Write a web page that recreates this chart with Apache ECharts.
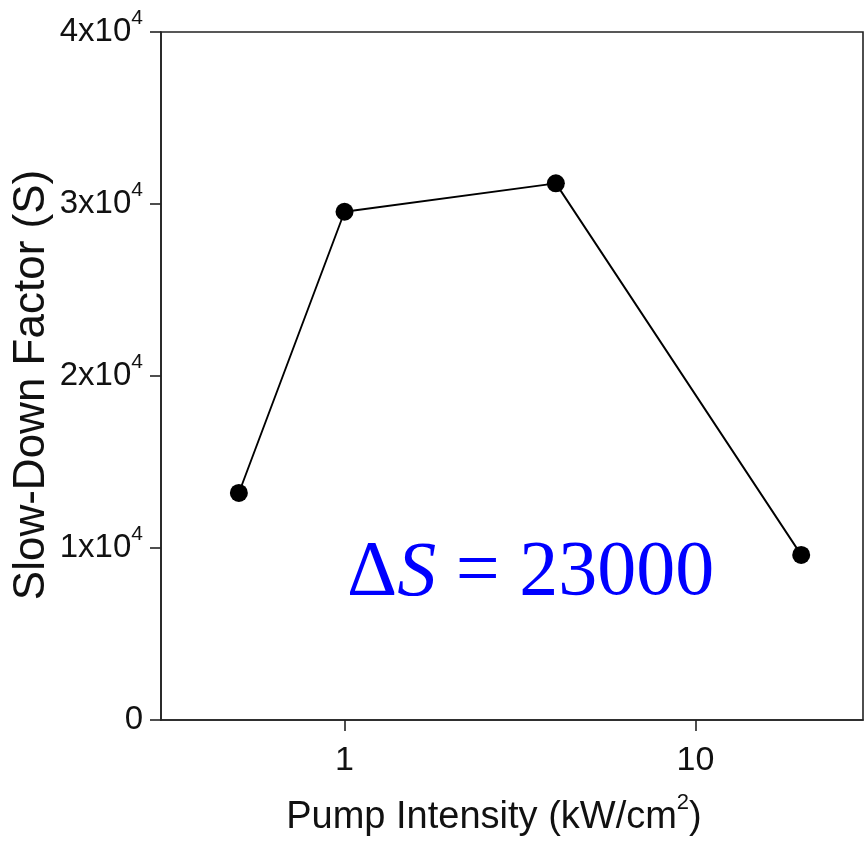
<!DOCTYPE html>
<html>
<head>
<meta charset="utf-8">
<script src="https://cdn.jsdelivr.net/npm/echarts@6/dist/echarts.min.js"></script>
<style>
html,body{margin:0;padding:0;background:#fff;}
#chart{width:867px;height:842px;}
</style>
</head>
<body>
<div id="chart"></div>
<script>
// Data
const pumpIntensity = [0.5, 1, 4, 20];          // kW/cm^2
const slowDownFactor = [13200, 29550, 31200, 9600];
const xTickValues = [1, 10];
const yTickValues = [0, 10000, 20000, 30000, 40000];
const annotationText = ['\u0394', 'S', ' = 23000'];

const FONT = '"Liberation Sans", Arial, sans-serif';
const SERIF = '"Liberation Serif", "Times New Roman", serif';
const chart = echarts.init(document.getElementById('chart'), null, {renderer: 'canvas'});

const seriesData = pumpIntensity.map((x, i) => [x, slowDownFactor[i]]);

chart.setOption({
  backgroundColor: '#ffffff',
  animation: false,
  grid: {
    left: 161, top: 32, right: 4, bottom: 122,
    outerBoundsMode: 'none',
    containLabel: false,
    show: true, borderColor: '#222', borderWidth: 1.6, backgroundColor: 'transparent'
  },
  xAxis: {
    type: 'log',
    logBase: 10,
    min: 0.3,
    max: 30,
    name: 'Pump Intensity (kW/cm{sup|2})',
    nameLocation: 'middle',
    nameGap: 72,
    nameMoveOverlap: false,
    nameTextStyle: {
      fontFamily: FONT, fontSize: 38, color: '#111', padding: [0, 36, 0, 0],
      lineHeight: 52,
      rich: {
        sup: {fontFamily: FONT, fontSize: 22, color: '#111', verticalAlign: 'top', lineHeight: 18}
      }
    },
    axisLine: {show: true, lineStyle: {color: '#222', width: 1.6}},
    axisTick: {show: true, inside: false, length: 11, lineStyle: {color: '#222', width: 1.6}, customValues: xTickValues},
    axisLabel: {
      show: true, margin: 24, fontFamily: FONT, fontSize: 34, color: '#111',
      customValues: xTickValues,
      formatter: v => String(v)
    },
    splitLine: {show: false},
    minorTick: {show: false}
  },
  yAxis: {
    type: 'value',
    min: 0,
    max: 40000,
    interval: 10000,
    name: 'Slow-Down Factor (S)',
    nameLocation: 'middle',
    nameGap: 107,
    nameMoveOverlap: false,
    nameTextStyle: {fontFamily: FONT, fontSize: 44, color: '#111', padding: [0, 18, 0, 0]},
    axisLine: {show: true, lineStyle: {color: '#222', width: 1.6}},
    axisTick: {show: true, inside: false, length: 11, lineStyle: {color: '#222', width: 1.6}},
    axisLabel: {
      show: true, margin: 18, fontFamily: FONT, fontSize: 33, color: '#111',
      formatter: v => v === 0 ? '{b|0}' : '{b|' + (v / 10000) + 'x10}{s|4}',
      rich: {
        b: {fontFamily: FONT, fontSize: 33, color: '#111', lineHeight: 48},
        s: {fontFamily: FONT, fontSize: 21, color: '#111', verticalAlign: 'top', lineHeight: 14}
      }
    },
    splitLine: {show: false}
  },
  series: [{
    type: 'line',
    data: seriesData,
    symbol: 'circle',
    symbolSize: 18,
    itemStyle: {color: '#000'},
    lineStyle: {color: '#000', width: 1.9},
    z: 3
  }],
  graphic: [{
    type: 'text',
    left: 347,
    top: 535,
    style: {
      text: '{d|' + annotationText[0] + '}{i|' + annotationText[1] + '}{n|' + annotationText[2] + '}',
      rich: {
        d: {fontFamily: SERIF, fontSize: 78, fill: '#0000ff'},
        i: {fontFamily: SERIF, fontSize: 78, fontStyle: 'italic', fill: '#0000ff'},
        n: {fontFamily: SERIF, fontSize: 78, fill: '#0000ff'}
      }
    }
  }]
});
</script>
</body>
</html>
